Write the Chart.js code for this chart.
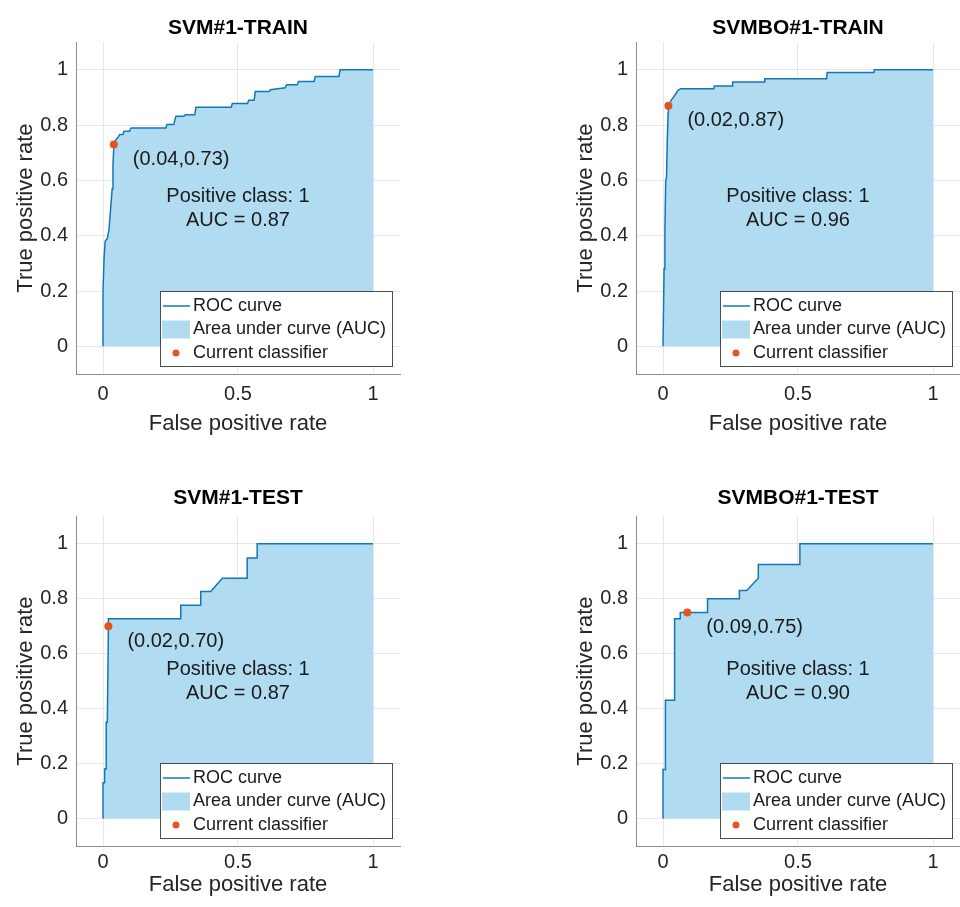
<!DOCTYPE html>
<html>
<head>
<meta charset="utf-8">
<script src="https://cdn.jsdelivr.net/npm/chart.js@4.4.1/dist/chart.umd.min.js"></script>
<style>
  html, body { margin: 0; padding: 0; background: #fff; }
  #wrap { position: relative; width: 960px; height: 907px; overflow: hidden; }
  canvas { position: absolute; }
</style>
</head>
<body>
<div id="wrap">
  <canvas id="c0" width="480" height="453" style="left:0;top:0"></canvas>
  <canvas id="c1" width="404" height="453" style="left:560px;top:0"></canvas>
  <canvas id="c2" width="480" height="454" style="left:0;top:453px"></canvas>
  <canvas id="c3" width="404" height="454" style="left:560px;top:453px"></canvas>
</div>
<script>
// titres et valeurs
const titles = ['SVM#1-TRAIN', 'SVMBO#1-TRAIN', 'SVM#1-TEST', 'SVMBO#1-TEST'];
const xTicks = [0, 0.5, 1];
const yTicks = [0, 0.2, 0.4, 0.6, 0.8, 1];
const aucs = [0.87, 0.96, 0.87, 0.90];
const curFpr = [0.04, 0.02, 0.02, 0.09];
const curTpr = [0.73, 0.87, 0.70, 0.75];
const legendLabels = ['ROC curve', 'Area under curve (AUC)', 'Current classifier'];

// courbes ROC
const svmTrainFpr = [0, 0, 0.004, 0.008, 0.016, 0.022, 0.030, 0.034, 0.037, 0.040, 0.040, 0.046, 0.055, 0.062, 0.074, 0.078, 0.098, 0.104, 0.233, 0.237, 0.262, 0.270, 0.300, 0.305, 0.340, 0.344, 0.475, 0.479, 0.535, 0.540, 0.560, 0.564, 0.615, 0.620, 0.675, 0.680, 0.720, 0.724, 0.782, 0.786, 0.874, 0.878, 1];
const svmTrainTpr = [0, 0.20, 0.32, 0.38, 0.39, 0.42, 0.52, 0.57, 0.66, 0.72, 0.73, 0.745, 0.755, 0.766, 0.766, 0.778, 0.778, 0.790, 0.790, 0.802, 0.802, 0.832, 0.832, 0.838, 0.838, 0.865, 0.865, 0.878, 0.878, 0.890, 0.890, 0.922, 0.922, 0.928, 0.935, 0.946, 0.946, 0.958, 0.958, 0.976, 0.976, 1, 1];

const svmboTrainFpr = [0, 0.004, 0.007, 0.010, 0.013, 0.016, 0.019, 0.020, 0.030, 0.045, 0.055, 0.065, 0.188, 0.190, 0.256, 0.258, 0.375, 0.377, 0.606, 0.608, 0.781, 0.783, 1];
const svmboTrainTpr = [0, 0.28, 0.42, 0.60, 0.61, 0.75, 0.845, 0.87, 0.89, 0.91, 0.925, 0.932, 0.932, 0.942, 0.942, 0.956, 0.956, 0.968, 0.968, 0.99, 0.99, 1, 1];

const svmTestFpr = [0, 0, 0.006, 0.006, 0.012, 0.012, 0.016, 0.020, 0.020, 0.288, 0.288, 0.362, 0.362, 0.399, 0.442, 0.534, 0.534, 0.571, 0.571, 1];
const svmTestTpr = [0, 0.13, 0.13, 0.18, 0.18, 0.35, 0.35, 0.69, 0.727, 0.727, 0.776, 0.776, 0.826, 0.826, 0.874, 0.874, 0.948, 0.948, 1, 1];

const svmboTestFpr = [0, 0, 0.009, 0.009, 0.043, 0.043, 0.064, 0.064, 0.165, 0.165, 0.283, 0.283, 0.310, 0.353, 0.353, 0.507, 0.507, 1];
const svmboTestTpr = [0, 0.178, 0.178, 0.43, 0.43, 0.727, 0.727, 0.75, 0.75, 0.80, 0.80, 0.83, 0.83, 0.874, 0.924, 0.924, 1, 1];

const fprs = [svmTrainFpr, svmboTrainFpr, svmTestFpr, svmboTestFpr];
const tprs = [svmTrainTpr, svmboTrainTpr, svmTestTpr, svmboTestTpr];

// couleurs
const lineColor = '#1477b5';
const fillColor = 'rgb(176,219,240)';
const dotColor = '#e0561e';
const textColor = '#262626';
const fontFamily = "'Liberation Sans', Arial, sans-serif";

Chart.defaults.font.family = fontFamily;

// placement de chaque panneau
const panels = [
  { padRight: 80, titlePad: { top: 16, bottom: 1 }, xHeight: 79, tickPad: 8, xTitlePad: 16 },
  { padRight: 0, titlePad: { top: 16, bottom: 1 }, xHeight: 79, tickPad: 8, xTitlePad: 16 },
  { padRight: 80, titlePad: { top: 33, bottom: 5 }, xHeight: 61, tickPad: 4, xTitlePad: 9 },
  { padRight: 0, titlePad: { top: 33, bottom: 5 }, xHeight: 61, tickPad: 4, xTitlePad: 9 }
];

// textes et légende dans la zone du graphique
const rocExtras = {
  id: 'rocExtras',
  afterDatasetsDraw(chart, args, opts) {
    const { ctx, chartArea: a, scales: { x, y } } = chart;
    const i = opts.index;
    ctx.save();
    ctx.fillStyle = '#1a1a1a';
    ctx.font = '20px ' + fontFamily;
    ctx.textBaseline = 'middle';
    ctx.textAlign = 'left';
    ctx.fillText('(' + curFpr[i].toFixed(2) + ',' + curTpr[i].toFixed(2) + ')',
      x.getPixelForValue(curFpr[i]) + 19, y.getPixelForValue(curTpr[i]) + 15);
    ctx.textAlign = 'center';
    const cx = x.getPixelForValue(0.5), cy = y.getPixelForValue(0.5);
    ctx.fillText('Positive class: 1', cx, cy - 12);
    ctx.fillText('AUC = ' + aucs[i].toFixed(2), cx, cy + 12);

    // légende
    const bw = 232, bh = 75;
    const bx = Math.round(a.right - 8 - bw), by = Math.round(a.bottom - 8 - bh);
    ctx.fillStyle = '#fff';
    ctx.fillRect(bx, by, bw, bh);
    ctx.strokeStyle = '#4d4d4d';
    ctx.lineWidth = 1;
    ctx.strokeRect(bx + 0.5, by + 0.5, bw, bh);
    const rows = [by + 15, by + 38.5, by + 62];
    ctx.strokeStyle = lineColor;
    ctx.lineWidth = 1.5;
    ctx.beginPath();
    ctx.moveTo(bx + 3, rows[0]);
    ctx.lineTo(bx + 30, rows[0]);
    ctx.stroke();
    ctx.fillStyle = fillColor;
    ctx.fillRect(bx + 2, rows[1] - 9, 28, 18);
    ctx.fillStyle = dotColor;
    ctx.beginPath();
    ctx.arc(bx + 16, rows[2], 3.5, 0, Math.PI * 2);
    ctx.fill();
    ctx.fillStyle = '#1a1a1a';
    ctx.font = '18px ' + fontFamily;
    ctx.textAlign = 'left';
    legendLabels.forEach((t, k) => ctx.fillText(t, bx + 33, rows[k]));
    ctx.restore();
  }
};

panels.forEach((p, i) => {
  const ctx = document.getElementById('c' + i).getContext('2d');
  new Chart(ctx, {
    type: 'scatter',
    data: {
      datasets: [
        {
          label: 'Current classifier',
          data: [{ x: curFpr[i], y: curTpr[i] }],
          pointRadius: 4,
          pointBackgroundColor: dotColor,
          pointBorderWidth: 0,
          showLine: false,
          order: 0
        },
        {
          label: 'ROC curve',
          data: fprs[i].map((v, k) => ({ x: v, y: tprs[i][k] })),
          showLine: true,
          borderColor: lineColor,
          borderWidth: 1.5,
          backgroundColor: fillColor,
          fill: 'origin',
          pointRadius: 0,
          tension: 0,
          order: 1
        }
      ]
    },
    options: {
      responsive: false,
      animation: false,
      layout: { padding: { left: 0, right: p.padRight, top: 0, bottom: 0 } },
      scales: {
        x: {
          type: 'linear',
          min: -0.1,
          max: 1.1,
          afterBuildTicks: s => { s.ticks = xTicks.map(v => ({ value: v })); },
          afterFit: s => { s.height = p.xHeight; },
          grid: { color: '#e6e6e6', drawTicks: false },
          border: { color: '#8c8c8c' },
          ticks: { padding: p.tickPad, color: textColor, font: { size: 20 }, callback: v => String(v) },
          title: { display: true, text: 'False positive rate', color: textColor, font: { size: 22 }, padding: { top: 0, bottom: p.xTitlePad } }
        },
        y: {
          type: 'linear',
          min: -0.1,
          max: 1.1,
          afterBuildTicks: s => { s.ticks = yTicks.map(v => ({ value: v })); },
          afterFit: s => { s.width = 76; },
          grid: { color: '#e6e6e6', drawTicks: false },
          border: { color: '#8c8c8c' },
          ticks: { padding: 8, color: textColor, font: { size: 20 }, callback: v => String(v) },
          title: { display: true, text: 'True positive rate', color: textColor, font: { size: 22 }, padding: { top: 13, bottom: 0 } }
        }
      },
      plugins: {
        legend: { display: false },
        tooltip: { enabled: false },
        title: {
          display: true,
          text: titles[i],
          fullSize: false,
          color: '#000',
          font: { size: 21, weight: 'bold' },
          padding: p.titlePad
        },
        rocExtras: { index: i }
      }
    },
    plugins: [rocExtras]
  });
});
</script>
</body>
</html>
